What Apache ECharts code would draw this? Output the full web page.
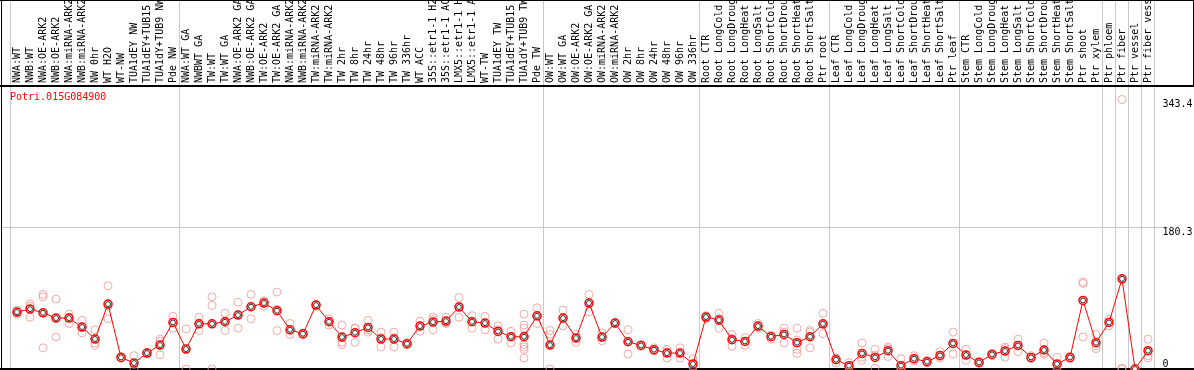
<!DOCTYPE html>
<html lang="en">
<head>
<meta charset="UTF-8">
<title>Potri.015G084900</title>
<script src="https://cdn.jsdelivr.net/npm/echarts@6/dist/echarts.min.js"></script>
</head>
<body style="margin:0">
<div id="ec" style="width:1194px;height:370px"></div>
<script>
var geneName = 'Potri.015G084900'

var categories = [
    'NWA:WT', 'NWB:WT', 'NWA:OE-ARK2', 'NWB:OE-ARK2', 'NWA:miRNA-ARK2', 'NWB:miRNA-ARK2',
    'NW 0hr', 'WT H2O', 'WT-NW', 'TUA1dEY NW', 'TUA1dEY+TUB15 NW', 'TUA1dY+TUB9 NW', 'Pde NW',
    'NWA:WT GA', 'NWBWT GA', 'TW:WT', 'TW:WT GA', 'NWA:OE-ARK2 GA', 'NWB:OE-ARK2 GA',
    'TW:OE-ARK2', 'TW:OE-ARK2 GA', 'NWA:miRNA-ARK2 GA', 'NWB:miRNA-ARK2 GA', 'TW:miRNA-ARK2',
    'TW:miRNA-ARK2 GA', 'TW 2hr', 'TW 8hr', 'TW 24hr', 'TW 48hr', 'TW 96hr', 'TW 336hr',
    'WT ACC', '35S::etr1-1 H2O', '35S::etr1-1 ACC', 'LMX5::etr1-1 H2O', 'LMX5::etr1-1 ACC',
    'WT-TW', 'TUA1dEY TW', 'TUA1dEY+TUB15 TW', 'TUA1dY+TUB9 TW', 'Pde TW',
    'OW:WT', 'OW:WT GA', 'OW:OE-ARK2', 'OW:OE-ARK2 GA', 'OW:miRNA-ARK2', 'OW:miRNA-ARK2 GA',
    'OW 2hr', 'OW 8hr', 'OW 24hr', 'OW 48hr', 'OW 96hr', 'OW 336hr',
    'Root CTR', 'Root LongCold', 'Root LongDrought', 'Root LongHeat', 'Root LongSalt',
    'Root ShortCold', 'Root ShortDrought', 'Root ShortHeat', 'Root ShortSalt', 'Ptr root',
    'Leaf CTR', 'Leaf LongCold', 'Leaf LongDrought', 'Leaf LongHeat', 'Leaf LongSalt',
    'Leaf ShortCold', 'Leaf ShortDrought', 'Leaf ShortHeat', 'Leaf ShortSalt', 'Ptr leaf',
    'Stem CTR', 'Stem LongCold', 'Stem LongDrought', 'Stem LongHeat', 'Stem LongSalt',
    'Stem ShortCold', 'Stem ShortDrought', 'Stem ShortHeat', 'Stem ShortSalt', 'Ptr shoot',
    'Ptr xylem', 'Ptr phloem', 'Ptr fiber', 'Ptr vessel', 'Ptr fiber vessel'
]

var means = [
    72.5, 76.3, 71.6, 64.9, 64.9, 53.4, 38.2, 82.7, 14.8, 7.6, 20.3, 30.5, 59.3,
    25.4, 57.6, 57.6, 60.2, 68.7, 79.3, 84.0, 74.2, 50.0, 44.9, 81.4, 60.2, 40.7, 46.2,
    53.0, 38.2, 38.2, 32.2, 54.7, 59.8, 61.0, 78.9, 60.2, 58.5, 47.8, 41.1, 41.1, 67.8,
    30.5, 64.9, 39.4, 84.0, 40.7, 58.5, 34.7, 30.0, 24.6, 20.3, 20.3, 6.4,
    66.2, 62.3, 37.3, 35.1, 54.7, 41.1, 44.0, 33.5, 41.1, 57.6,
    11.8, 4.2, 19.8, 14.8, 23.3, 4.2, 13.1, 9.3, 17.3, 32.6,
    17.8, 8.4, 18.6, 22.9, 30.0, 14.8, 24.2, 6.4, 14.8, 87.3,
    33.5, 59.3, 114.9, 0, 23.3
]

var replicates = [
    [75, 70, 72], [83, 66, 80], [95, 92, 27], [89, 41, 65], [70, 58, 66], [62, 46, 53],
    [50, 33, 30], [106, 80, 64], [16, 14, 14], [17, 6, 0], [21, 19, 21], [38, 35, 30, 18],
    [67, 59, 52],
    [51, 0, 25], [66, 49, 58], [92, 81, 0], [71, 49, 61], [85, 52, 69], [95, 64, 79],
    [87, 80, 85], [98, 49, 76], [58, 44, 49], [46, 43, 45], [82, 80, 82], [64, 56, 61],
    [56, 34, 31], [52, 34, 52], [62, 47, 50], [47, 28, 40], [47, 28, 40], [33, 31, 32],
    [61, 48, 55], [66, 50, 63], [66, 58, 59], [91, 66, 80], [68, 52, 61], [67, 50, 59],
    [55, 38, 50], [48, 33, 42], [70, 56, 52, 42, 31, 28, 25, 14], [78, 58, 67],
    [49, 44, 0], [75, 55, 65], [44, 34, 40], [95, 73, 84], [46, 36, 40], [59, 58, 59],
    [50, 19, 35], [31, 29, 30], [27, 23, 24], [25, 14, 22], [27, 14, 20], [13, 4, 2],
    [68, 64, 66], [71, 52, 64], [44, 29, 39], [40, 30, 35], [58, 52, 54], [43, 38, 42],
    [52, 33, 47], [52, 25, 20, 37], [49, 27, 47], [71, 45, 57],
    [14, 8, 13], [8, 2, 3], [33, 11, 15], [25, 1, 18], [28, 16, 26], [13, 0, 0],
    [17, 10, 12], [11, 8, 9], [22, 14, 16], [47, 19, 32],
    [25, 11, 18], [10, 7, 8], [20, 17, 19], [28, 15, 26], [38, 22, 30], [17, 13, 14],
    [33, 19, 21], [15, 0, 4], [16, 13, 15], [111, 109, 41],
    [44, 30, 26], [63, 55, 60], [343.4, 0, 1], [0, 0, 0], [38, 17, 14]
]

// group separators: boundary just before these category indexes
var groupStarts = [0, 13, 41, 53, 63, 73, 84, 85, 86, 87]
var yTicks = [0, 180.3, 343.4]

var font = 'DejaVu Sans Mono'
var gray = '#c8c8c8'
var yMax = 343.4 * 1.05

var repPoints = []
replicates.forEach(function (reps, i) {
    reps.forEach(function (v) { repPoints.push([i, v]) })
})

function isSep(index) {
    return groupStarts.indexOf(index) >= 0
}

var chart = echarts.init(document.getElementById('ec'))
var gridLeft = 10.5
var gridRight = 1194 - gridLeft - categories.length * 13

var option = {
    animation: false,
    title: {
        text: geneName,
        left: 10,
        top: 92,
        padding: 0,
        textStyle: { color: '#ff0000', fontFamily: font, fontSize: 10, fontWeight: 'normal' }
    },
    grid: [
        { left: gridLeft, right: gridRight, top: 86, bottom: 1, outerBoundsMode: 'none' },
        { left: gridLeft, right: gridRight, top: 0, height: 86, outerBoundsMode: 'none' }
    ],
    xAxis: [
        {
            gridIndex: 0,
            type: 'category',
            position: 'top',
            data: categories,
            boundaryGap: true,
            axisLine: { show: false },
            axisTick: { show: false },
            axisLabel: {
                interval: 0, rotate: 90, margin: 3,
                fontFamily: font, fontSize: 10, color: '#000'
            },
            splitLine: { show: true, interval: isSep, lineStyle: { color: gray, width: 1 } }
        },
        {
            gridIndex: 1,
            type: 'category',
            data: categories,
            boundaryGap: true,
            axisLine: { show: false },
            axisTick: { show: false },
            axisLabel: { show: false },
            splitLine: { show: true, interval: isSep, lineStyle: { color: gray, width: 1 } }
        }
    ],
    yAxis: [
        {
            gridIndex: 0, type: 'value', position: 'right', min: 0, max: yMax,
            axisLine: { show: false }, axisTick: { show: false }, splitLine: { show: false },
            axisLabel: {
                customValues: yTicks.slice(1), verticalAlign: 'top', margin: 8,
                fontFamily: font, fontSize: 10, color: '#000'
            }
        },
        {
            gridIndex: 0, type: 'value', position: 'right', min: 0, max: yMax,
            axisLine: { show: false }, axisTick: { show: false }, splitLine: { show: false },
            axisLabel: {
                customValues: yTicks.slice(0, 1), verticalAlign: 'bottom', margin: 8,
                fontFamily: font, fontSize: 10, color: '#000'
            }
        },
        { gridIndex: 1, type: 'value', show: false }
    ],
    series: [
        {
            name: 'replicates',
            type: 'scatter',
            data: repPoints,
            symbol: 'circle',
            symbolSize: 8,
            itemStyle: { color: 'transparent', borderColor: '#ef9696', borderWidth: 1 },
            z: 1
        },
        {
            name: 'mean',
            type: 'line',
            data: means,
            showAllSymbol: true,
            symbol: 'circle',
            symbolSize: 8,
            lineStyle: { color: '#ff0000', width: 1 },
            itemStyle: { color: '#fff', borderColor: '#ff0000', borderWidth: 1.5 },
            z: 2
        },
        {
            name: 'mean ring',
            type: 'scatter',
            data: means,
            symbol: 'circle',
            symbolSize: 5,
            itemStyle: { color: 'transparent', borderColor: '#000', borderWidth: 1 },
            z: 3
        }
    ]
}
chart.setOption(option)

// frame and the reference line at the middle tick
var midY = chart.convertToPixel({ yAxisIndex: 0 }, yTicks[1])
var lineTo = chart.convertToPixel({ xAxisIndex: 0 }, categories.length - 1) + 13
chart.setOption({
    graphic: [
        { type: 'line', shape: { x1: 1, y1: Math.round(midY) + 0.5, x2: lineTo + 7, y2: Math.round(midY) + 0.5 }, style: { stroke: gray, lineWidth: 1 }, z: 0 },
        { type: 'line', shape: { x1: 0, y1: 0.5, x2: 1194, y2: 0.5 }, style: { stroke: '#000', lineWidth: 1 } },
        { type: 'line', shape: { x1: 0, y1: 86, x2: 1194, y2: 86 }, style: { stroke: '#000', lineWidth: 2 } },
        { type: 'line', shape: { x1: 0, y1: 369, x2: 1194, y2: 369 }, style: { stroke: '#000', lineWidth: 2 } },
        { type: 'line', shape: { x1: 1.5, y1: 0, x2: 1.5, y2: 370 }, style: { stroke: '#000', lineWidth: 1 } },
        { type: 'line', shape: { x1: 1193.5, y1: 0, x2: 1193.5, y2: 86 }, style: { stroke: '#000', lineWidth: 1 } }
    ]
})
</script>
</body>
</html>
